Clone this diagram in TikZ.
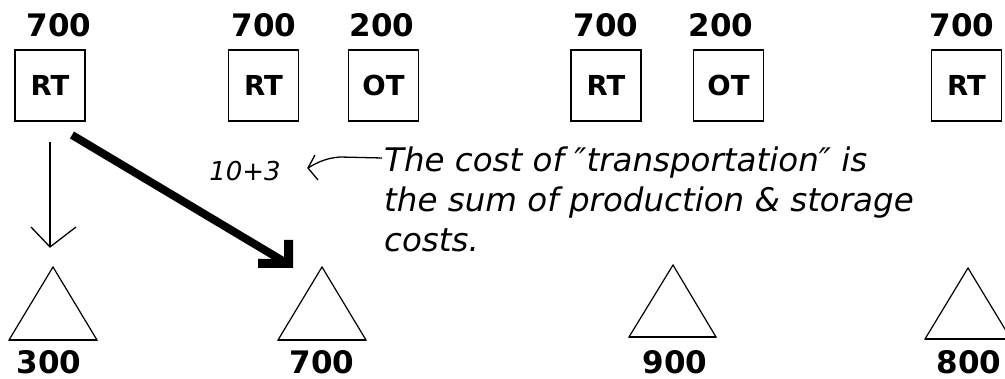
\documentclass[tikz,border=0pt]{standalone}
\usepackage{fontspec}
\setmainfont{DejaVu Sans}
\begin{document}
\begin{tikzpicture}[x=1pt,y=-1pt,
  box/.style={draw, line width=1.4pt, minimum width=70pt, minimum height=71pt, inner sep=0pt, font=\fontsize{27.5}{30}\selectfont\bfseries},
  num/.style={inner sep=0pt, font=\fontsize{31}{34}\selectfont\bfseries},
  tri/.style={line width=1.2pt, line join=miter},
  base/.style={line width=2.4pt},
  thin/.style={line width=1.3pt},
  note/.style={inner sep=0pt, font=\fontsize{32.5}{40}\selectfont\itshape, align=left}
]
\useasboundingbox (0,0) rectangle (1005,379);

% top labels
\node[num] (l1) at (59,25) {700};
\node[num] (l2) at (264,25) {700};
\node[num] (l3) at (382,25) {200};
\node[num] (l4) at (606,25) {700};
\node[num] (l5) at (721,25) {200};
\node[num] (l6) at (962,25) {700};

% boxes
\node[box] (rt1) at (50,85.5) {RT};
\node[box] (rt2) at (263.5,85.5) {RT};
\node[box] (ot1) at (383.5,85.5) {OT};
\node[box] (rt3) at (606,85.5) {RT};
\node[box] (ot2) at (728.5,85.5) {OT};
\node[box] (rt4) at (966.5,85.5) {RT};

% triangles
\coordinate (t1) at (53,267);
\coordinate (t2) at (322,267);
\coordinate (t3) at (673,265);
\coordinate (t4) at (968,268);
\draw[tri] (t1) -- (97,340) -- (9,340) -- cycle;
\draw[base] (9,340) -- (97,340);
\draw[tri] (t2) -- (366,340) -- (278,340) -- cycle;
\draw[base] (278,340) -- (366,340);
\draw[tri] (t3) -- (716,337) -- (629,337) -- cycle;
\draw[base] (629,337) -- (716,337);
\draw[tri] (t4) -- (1011,339) -- (925,339) -- cycle;
\draw[base] (925,339) -- (1011,339);

% bottom labels
\node[num] (b1) at (49,362.5) {300};
\node[num] (b2) at (322,362.5) {700};
\node[num] (b3) at (675,362.5) {900};
\node[num] (b4) at (969,362.5) {800};

% thin arrow
\coordinate (a1s) at (50,142);
\coordinate (a1e) at (50,247);
\coordinate (a1l) at (31,227);
\coordinate (a1r) at (76,227);
\draw[thin] (a1s) -- (a1e);
\draw[thin] (a1l) -- (a1e) -- (a1r);

% thick arrow
\coordinate (a2s) at (72,135);
\coordinate (a2e) at (288,264);
\draw[line width=8pt] (a2s) -- (a2e);
\fill (258,259) -- (284,259) -- (284,240) -- (293,240) -- (293,268) -- (258,268) -- cycle;

% annotation
\node[inner sep=0pt, font=\fontsize{26}{28}\selectfont\itshape] (sum) at (245,171) {10+3};
\node[note, anchor=base west] (txt) at (384,252) {The cost of ″transportation″ is\\the sum of production \& storage\\costs.};
\coordinate (c1) at (382,158);
\coordinate (c2) at (340,157);
\coordinate (c3) at (308,168);
\draw[thin] (c1) -- (c2) .. controls (326,158) and (316,163) .. (c3);
\draw[thin] (315,155) -- (c3) -- (318,180);
\end{tikzpicture}
\end{document}
